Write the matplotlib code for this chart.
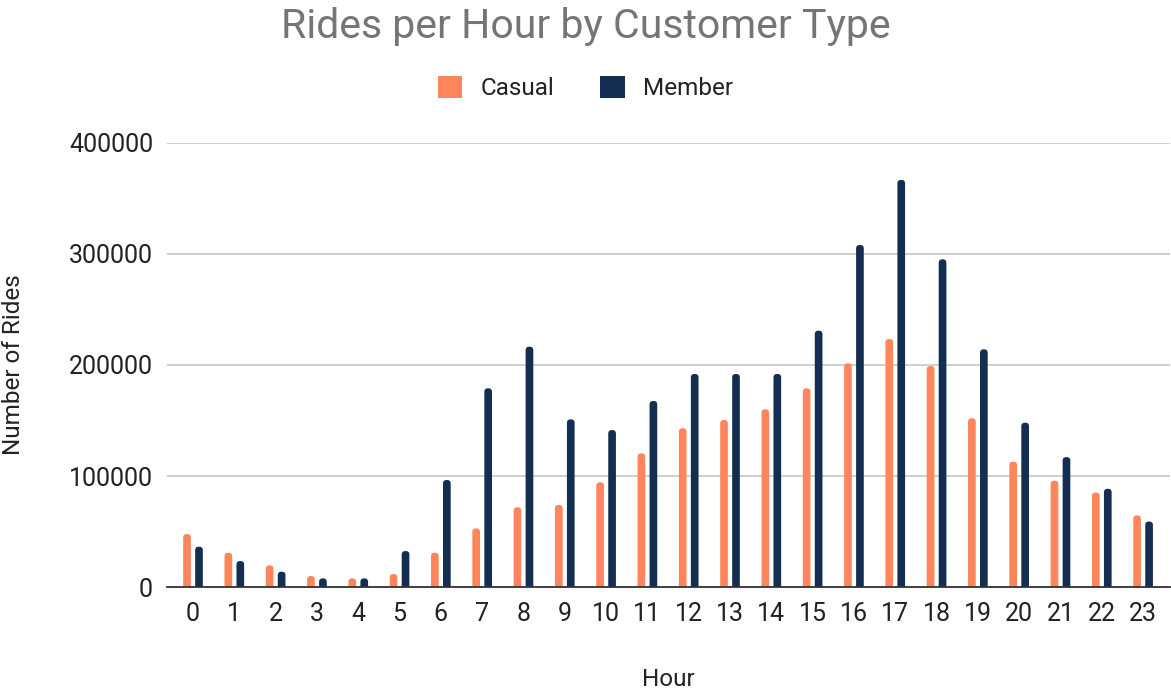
import numpy as np
import matplotlib
matplotlib.use('Agg')
import matplotlib.pyplot as plt
from matplotlib.patches import FancyBboxPatch, Patch

# Rides per hour
hours = list(range(24))
hour_labels = [str(h) for h in hours]
casual = [47700, 30900, 19500, 9900, 7800, 11700, 30900, 52800, 71800, 73900,
          94300, 120400, 143000, 150500, 160100, 179000, 201500, 223400, 199100,
          152000, 112900, 95800, 85000, 64500]
member = [36300, 23400, 13800, 7800, 7800, 32400, 96400, 179000, 216500, 151000,
          141400, 167600, 191900, 191900, 191900, 230900, 308100, 366700, 295200,
          214100, 148000, 117000, 88500, 59000]
yticks = [0, 100000, 200000, 300000, 400000]

plt.rcParams['font.family'] = ['Roboto', 'DejaVu Sans']

c_casual = '#ff855c'
c_member = '#142e52'
txt = '#222222'

f = plt.figure(figsize=(11.71, 6.92), dpi=100)
ax = f.add_axes([0.1426, 0.1517, 0.8565, 0.6417])

x = np.arange(len(hours))
w = 0.186
off = 0.145
b1 = ax.bar(x - off, casual, width=w, color=c_casual, zorder=3)
b2 = ax.bar(x + off, member, width=w, color=c_member, zorder=3)

ax.set_xlim(-0.63, 23.65)
ax.set_ylim(0, 400000)

# round the bar tops (google sheets look): swap each rect for a rounded box,
# the bottom rounding sits below 0 and gets clipped by the axes
rx = 0.085
asp = 37100
ry = rx * asp
for bars in (b1, b2):
    for r in bars:
        r.set_visible(False)
        p = FancyBboxPatch((r.get_x(), -ry), r.get_width(), r.get_height() + ry,
                           boxstyle="round,pad=0,rounding_size=%g" % rx,
                           mutation_aspect=asp, facecolor=r.get_facecolor(),
                           edgecolor='none', zorder=3)
        ax.add_patch(p)

ax.set_xticks(x)
ax.set_xticklabels(hour_labels)
ax.set_yticks(yticks)
ax.set_yticklabels([str(v) for v in yticks])
ax.tick_params(axis='both', length=0, labelsize=18, colors=txt)
ax.tick_params(axis='x', pad=11)
ax.tick_params(axis='y', pad=10)

ax.grid(axis='y', color='#cccccc', linewidth=1.3, zorder=0)
for s in ['top', 'right', 'left']:
    ax.spines[s].set_visible(False)
ax.spines['bottom'].set_color('#333333')
ax.spines['bottom'].set_linewidth(1.3)
ax.spines['bottom'].set_zorder(4)

ax.set_xlabel('Hour', fontsize=17.5, color=txt, labelpad=30)
ax.set_ylabel('Number of Rides', fontsize=17.5, color=txt, labelpad=32)

f.text(0.5, 1 - 38 / 692, 'Rides per Hour by Customer Type', ha='center',
       va='baseline', fontsize=29.5, color='#757575')

handles = [Patch(facecolor=c_casual, label='Casual'),
           Patch(facecolor=c_member, label='Member')]
f.legend(handles=handles, loc='center', bbox_to_anchor=(0.5, 1 - 88 / 692), ncol=2,
         frameon=False, fontsize=17.5, handlelength=1.0, handleheight=1.0,
         handletextpad=0.75, columnspacing=1.9, labelcolor=txt)

f.savefig('out.png', dpi=100)
